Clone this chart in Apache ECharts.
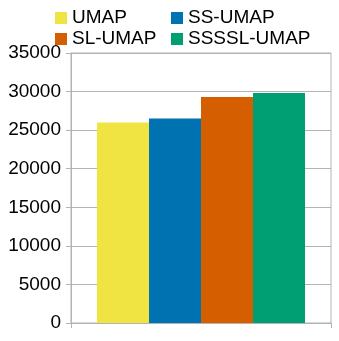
<!DOCTYPE html>
<html>
<head>
<meta charset="utf-8">
<script src="https://cdn.jsdelivr.net/npm/echarts@6/dist/echarts.min.js"></script>
<style>html,body{margin:0;padding:0;background:#fff}#c{width:339px;height:341px}</style>
</head>
<body>
<div id="c"></div>
<script>
const categories = [''];
const seriesNames = ['UMAP', 'SS-UMAP', 'SL-UMAP', 'SSSSL-UMAP'];
const seriesValues = [[26000], [26500], [29300], [29800]];
const colors = ['#f0e442', '#0072b2', '#d55e00', '#009e73'];
const yTicks = { min: 0, max: 35000, interval: 5000 };

const chart = echarts.init(document.getElementById('c'), null, { renderer: 'canvas' });
const font = 'Liberation Sans, Arial, sans-serif';
const legendBase = {
  orient: 'vertical', top: 8, padding: 0, itemWidth: 12, itemHeight: 12, itemGap: 1,
  icon: 'rect',
  textStyle: { fontFamily: font, fontSize: 19, color: '#000', lineHeight: 20 }
};
chart.setOption({
  animation: false,
  color: colors,
  legend: [
    Object.assign({}, legendBase, { left: 55, data: [seriesNames[0], seriesNames[2]] }),
    Object.assign({}, legendBase, { left: 171, data: [seriesNames[1], seriesNames[3]] })
  ],
  grid: { left: 71, right: 8, top: 53, bottom: 18, show: true, borderColor: '#b3b3b3', borderWidth: 1 },
  xAxis: {
    type: 'category', data: categories,
    axisLine: { lineStyle: { color: '#b3b3b3' } },
    axisTick: { show: true, length: 5, lineStyle: { color: '#b3b3b3' } },
    axisLabel: { show: false }
  },
  yAxis: {
    type: 'value', min: yTicks.min, max: yTicks.max, interval: yTicks.interval,
    axisLine: { show: true, lineStyle: { color: '#b3b3b3' } },
    axisTick: { show: true, length: 5, lineStyle: { color: '#b3b3b3' } },
    axisLabel: { fontFamily: font, fontSize: 19, color: '#000', margin: 10, formatter: v => String(v) },
    splitLine: { lineStyle: { color: '#b3b3b3' } }
  },
  series: seriesNames.map((n, i) => ({
    name: n, type: 'bar', data: seriesValues[i],
    barGap: 0, barCategoryGap: '20%'
  }))
});
</script>
</body>
</html>
